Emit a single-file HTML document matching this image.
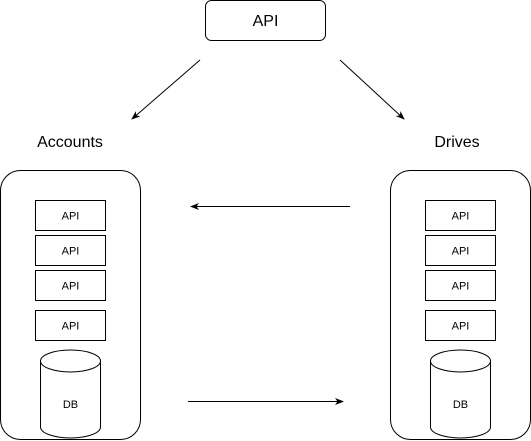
<!DOCTYPE html>
<html><head><style>body{margin:0;background:#fff}svg{display:block}</style></head><body>
<svg width="531" height="441" xmlns="http://www.w3.org/2000/svg" font-family="Liberation Sans, Arial, sans-serif">
<defs><marker id="a" markerWidth="10" markerHeight="10" refX="8" refY="5" orient="auto" markerUnits="userSpaceOnUse"><path d="M0,1.5 L9,5 L0,8.5 L2.5,5 Z" fill="#000"/></marker></defs>
<rect x="205.5" y="0.5" width="120" height="40" rx="6" fill="#fff" stroke="#000"/>
<text x="265.5" y="26" font-size="16" text-anchor="middle">API</text>
<line x1="200" y1="60" x2="132" y2="119" stroke="#000" marker-end="url(#a)"/>
<line x1="340" y1="60" x2="404" y2="119" stroke="#000" marker-end="url(#a)"/>
<text x="70" y="147" font-size="16" text-anchor="middle">Accounts</text>
<text x="457" y="147" font-size="16" text-anchor="middle">Drives</text>
<g id="c">
<rect x="0.5" y="170.5" width="140" height="269" rx="20" fill="#fff" stroke="#000"/>
<rect x="35.5" y="200.5" width="70" height="30" fill="#fff" stroke="#000"/>
<rect x="35.5" y="235.5" width="70" height="30" fill="#fff" stroke="#000"/>
<rect x="35.5" y="270.5" width="70" height="30" fill="#fff" stroke="#000"/>
<rect x="35.5" y="310.5" width="70" height="30" fill="#fff" stroke="#000"/>
<g font-size="11" text-anchor="middle"><text x="70.5" y="219.5">API</text><text x="70.5" y="254.5">API</text><text x="70.5" y="289.5">API</text><text x="70.5" y="329.5">API</text></g>
<path d="M40.5,361 A30,11 0 0 1 100.5,361 L100.5,427 A30,11 0 0 1 40.5,427 Z" fill="#fff" stroke="#000"/>
<path d="M40.5,361 A30,11 0 0 0 100.5,361" fill="none" stroke="#000"/>
<text x="70.5" y="408" font-size="11" text-anchor="middle">DB</text>
</g>
<use href="#c" x="390"/>
<line x1="350" y1="206.5" x2="191" y2="206.5" stroke="#000" marker-end="url(#a)"/>
<line x1="188" y1="401.5" x2="343" y2="401.5" stroke="#000" marker-end="url(#a)"/>
</svg>
</body></html>
